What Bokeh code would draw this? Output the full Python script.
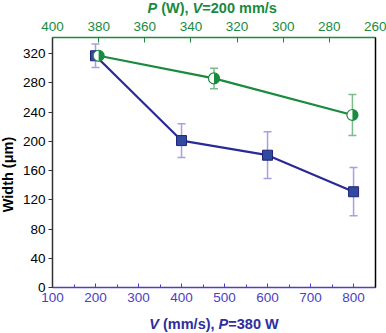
import math
from bokeh.plotting import figure
from bokeh.layouts import column
from bokeh.models import (Range1d, LinearAxis, SingleIntervalTicker, FixedTicker,
                          Whisker, ColumnDataSource, Label, TeeHead)
from bokeh.embed import file_html
from bokeh.resources import INLINE

# ---- data ----
speed = [200, 400, 600, 800]          # V (mm/s), P=380 W
width_speed = [317, 201, 181, 131]
err_speed = [16, 23, 32, 33]

power = [380, 330, 270]               # P (W), V=200 mm/s
width_power = [317, 286, 236]
err_power = [0, 14, 28]

BLUE_LINE = "#2a2a96"
BLUE_FILL = "#2f4a9e"
BLUE_ERR = "#a99ee0"
BLUE_AX = "#4b41c2"
BLUE_TITLE = "#2e2e9e"
GREEN = "#1a8a3e"
GREEN_ERR = "#7dba8e"
FONT = "Liberation Sans"

W = 386
TOP_H = 16
BOT_H = 20
MAIN_H = 333 - TOP_H - BOT_H


def strip(h):
    f = figure(width=W, height=h, output_backend="svg", toolbar_location=None,
               x_range=Range1d(0, W), y_range=Range1d(0, h),
               min_border=0, x_axis_location=None, y_axis_location=None)
    f.title.visible = False
    f.xgrid.visible = False
    f.ygrid.visible = False
    f.outline_line_color = None
    f.border_fill_color = "white"
    f.background_fill_color = "white"
    return f


def piece(fig, txt, xc, yc, color, style, side="center", angle=0.0, align="left"):
    lab = Label(x=xc, y=yc, x_units="canvas", y_units="canvas",
                text=txt, text_font=FONT, text_font_style=style,
                text_font_size="14.5px", text_color=color,
                text_baseline="middle", text_align=align, angle=angle)
    fig.add_layout(lab, side)


# ---- main figure ----
p = figure(width=W, height=MAIN_H, output_backend="svg", toolbar_location=None,
           x_range=Range1d(100, 851), y_range=Range1d(0, 342),
           min_border_left=52, min_border_right=11, min_border_top=21,
           min_border_bottom=26, x_axis_location=None, y_axis_location=None)
p.title.visible = False
p.extra_x_ranges = {"P": Range1d(400, 260)}
p.xgrid.visible = False
p.ygrid.visible = False
p.outline_line_color = None
p.background_fill_color = "white"
p.border_fill_color = "white"

# bottom axis
xb = LinearAxis(ticker=SingleIntervalTicker(interval=100, num_minor_ticks=2))
xb.major_tick_in = 4
xb.major_tick_out = 0
xb.minor_tick_in = 3
xb.minor_tick_out = 0
xb.axis_line_color = BLUE_AX
xb.axis_line_width = 1.5
xb.major_tick_line_color = BLUE_AX
xb.minor_tick_line_color = BLUE_AX
xb.major_label_text_color = BLUE_AX
xb.major_label_text_font = FONT
xb.major_label_text_font_size = "13.5px"
xb.major_label_standoff = 5
p.add_layout(xb, "below")

# left axis
yl = LinearAxis(ticker=SingleIntervalTicker(interval=40, num_minor_ticks=0))
yl.major_tick_in = 0
yl.major_tick_out = 4
yl.minor_tick_in = 0
yl.minor_tick_out = 0
yl.axis_line_color = "#333333"
yl.axis_line_width = 1.5
yl.major_tick_line_color = "#333333"
yl.major_label_text_color = "black"
yl.major_label_text_font = FONT
yl.major_label_text_font_size = "13.5px"
yl.major_label_standoff = 3
p.add_layout(yl, "left")

# top axis (power)
xt = LinearAxis(x_range_name="P", ticker=SingleIntervalTicker(interval=20, num_minor_ticks=0))
xt.major_tick_in = 5
xt.major_tick_out = 0
xt.minor_tick_in = 0
xt.minor_tick_out = 0
xt.axis_line_color = GREEN
xt.axis_line_width = 1.5
xt.major_tick_line_color = GREEN
xt.major_label_text_color = GREEN
xt.major_label_text_font = FONT
xt.major_label_text_font_size = "13.5px"
xt.major_label_standoff = 7
p.add_layout(xt, "above")

# right border
yr = LinearAxis(ticker=FixedTicker(ticks=[]))
yr.major_tick_in = 0
yr.major_tick_out = 0
yr.axis_line_color = "black"
yr.axis_line_width = 1.5
p.add_layout(yr, "right")

# blue series
src_v = ColumnDataSource(dict(x=speed, y=width_speed,
                              lo=[a - b for a, b in zip(width_speed, err_speed)],
                              hi=[a + b for a, b in zip(width_speed, err_speed)]))
wv = Whisker(source=src_v, base="x", lower="lo", upper="hi", line_color=BLUE_ERR,
             line_width=1.5)
wv.upper_head = TeeHead(size=8, line_color=BLUE_ERR, line_width=1.5)
wv.lower_head = TeeHead(size=8, line_color=BLUE_ERR, line_width=1.5)
p.add_layout(wv)
p.line("x", "y", source=src_v, line_color=BLUE_LINE, line_width=2.2)
p.scatter("x", "y", source=src_v, marker="square", size=10, fill_color=BLUE_FILL,
          line_color="#22227a", line_width=1)

# green series
src_p = ColumnDataSource(dict(x=power, y=width_power,
                              lo=[a - b for a, b in zip(width_power, err_power)],
                              hi=[a + b for a, b in zip(width_power, err_power)]))
wp = Whisker(source=src_p, base="x", lower="lo", upper="hi", line_color=GREEN_ERR,
             line_width=1.5, x_range_name="P")
wp.upper_head = TeeHead(size=8, line_color=GREEN_ERR, line_width=1.5)
wp.lower_head = TeeHead(size=8, line_color=GREEN_ERR, line_width=1.5)
p.add_layout(wp)
p.line("x", "y", source=src_p, line_color=GREEN, line_width=2.2, x_range_name="P")
p.scatter("x", "y", source=src_p, marker="circle", size=11, fill_color="white",
          line_color=GREEN, line_width=1.2, x_range_name="P")
p.wedge("x", "y", source=src_p, radius=5.5, radius_units="screen",
        start_angle=-math.pi / 2, end_angle=math.pi / 2, fill_color=GREEN,
        line_color=None, x_range_name="P")

# y axis title (in the left panel so that it is not clipped)
piece(p, "Width (μm)", 7, 174 - TOP_H, "black", "bold", side="left",
      angle=math.pi / 2, align="center")

# ---- top title strip ----
t = strip(TOP_H)
ty = 7.5
piece(t, "P", 147.0, ty, GREEN, "bold italic")
piece(t, "(W),", 160.7, ty, GREEN, "bold")
piece(t, "V", 192.1, ty, GREEN, "bold italic")
piece(t, "=200 mm/s", 201.8, ty, GREEN, "bold")

# ---- bottom title strip ----
b = strip(BOT_H)
by = 10
piece(b, "V", 148.8, by, BLUE_TITLE, "bold italic")
piece(b, "(mm/s),", 162.5, by, BLUE_TITLE, "bold")
piece(b, "P", 218.1, by, BLUE_TITLE, "bold italic")
piece(b, "=380 W", 227.8, by, BLUE_TITLE, "bold")

layout = column(t, p, b, spacing=0)
open("out.html", "w").write(file_html(layout, INLINE))
